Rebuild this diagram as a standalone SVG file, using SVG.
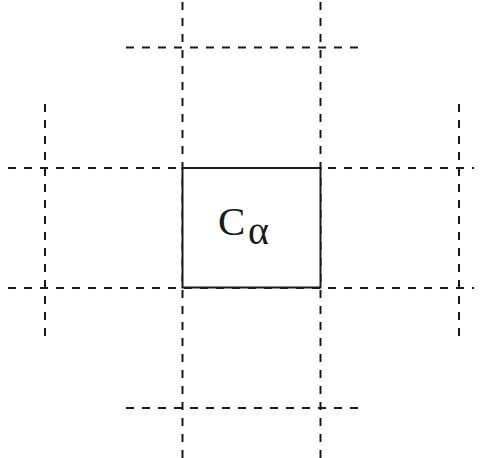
<svg xmlns="http://www.w3.org/2000/svg" width="480" height="458" viewBox="0 0 480 458">
<style>
.d{stroke:#1a1a1a;stroke-width:2;stroke-dasharray:8 8;fill:none}
.box{stroke:#1a1a1a;stroke-width:2;fill:#fff}
.t{font-family:"Liberation Serif",serif;fill:#1a1a1a}
</style>
<rect width="480" height="458" fill="#fff"/>
<g id="connectors">
<line class="d" x1="182.5" y1="2" x2="182.5" y2="458"/>
<line class="d" x1="320.5" y1="2" x2="320.5" y2="458"/>
<line class="d" x1="8" y1="168" x2="474" y2="168"/>
<line class="d" x1="8" y1="288" x2="474" y2="288"/>
<line class="d" x1="126" y1="47.5" x2="360" y2="47.5"/>
<line class="d" x1="126" y1="408" x2="360" y2="408"/>
<line class="d" x1="45" y1="104" x2="45" y2="338"/>
<line class="d" x1="459" y1="104" x2="459" y2="338"/>
</g>
<g id="node-calpha">
<rect class="box" x="182.5" y="168" width="138" height="119.5"/>
<text class="t" x="218" y="234.5" font-size="41">C<tspan x="248" dy="9" font-size="40">α</tspan></text>
</g>
</svg>
